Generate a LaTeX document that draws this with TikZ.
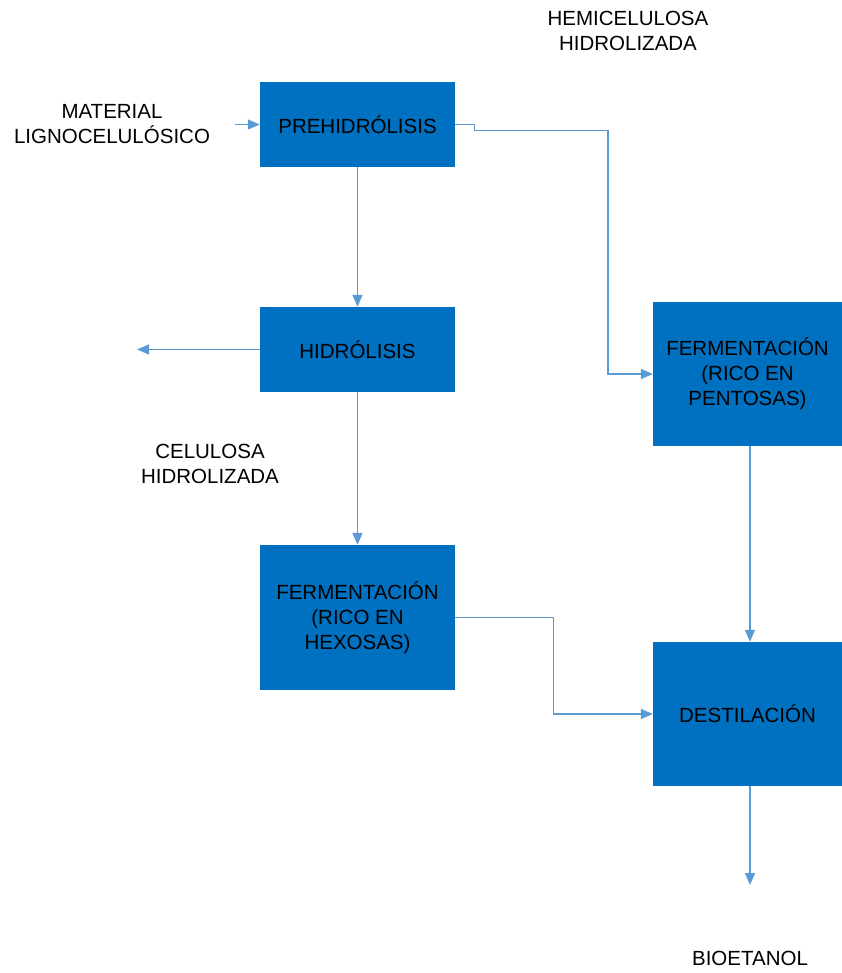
\documentclass[tikz,border=0pt]{standalone}
\usepackage{fontspec}
\setmainfont{Liberation Sans}
\usetikzlibrary{arrows.meta}
\definecolor{procblue}{HTML}{0070C0}
\definecolor{flowblue}{HTML}{5B9BD5}

\begin{document}
\begin{tikzpicture}[x=1pt, y=-1pt,
        proc/.style={fill=procblue, align=center, font=\fontsize{20.5}{25}\selectfont, minimum width=195pt, minimum height=85pt, inner sep=0pt},
        lbl/.style={align=center, font=\fontsize{20.5}{25}\selectfont, inner sep=0pt},
        arr/.style={-{Triangle[length=12pt,width=10pt]}, draw=flowblue, line width=1.3pt}]
      \useasboundingbox (0,0) rectangle (842,973);
      % process boxes
      \node[proc] (pre) at (357.5,124.5) {PREHIDRÓLISIS};
      \node[proc] (hid) at (357.5,349.5) {HIDRÓLISIS};
      \node[proc, minimum height=145pt] (fhex) at (357.5,617.5) {FERMENTACIÓN\\(RICO EN\\HEXOSAS)};
      \node[proc, minimum width=189pt, minimum height=144pt] (fpen) at (747.5,374) {FERMENTACIÓN\\(RICO EN\\PENTOSAS)};
      \node[proc, minimum width=189pt, minimum height=144pt] (dest) at (747.5,714) {DESTILACIÓN};
      % stream labels
      \node[lbl] (mat) at (112,124.5) {MATERIAL\\LIGNOCELULÓSICO};
      \node[lbl] (hemi) at (628,31) {HEMICELULOSA\\HIDROLIZADA};
      \node[lbl] (celu) at (210,464) {CELULOSA\\HIDROLIZADA};
      \node[lbl] (bio) at (750,958) {BIOETANOL};
      \coordinate (matout) at (235,124.5);
      \coordinate (side) at (137,349.5);
      \coordinate (prod) at (750,885);
      % flows
      \draw[arr] (matout) -- (pre.west);
      \draw[arr] (pre.south) -- (hid.north);
      \draw[arr] (hid.west) -- (side);
      \draw[arr] (hid.south) -- (fhex.north);
      \draw[arr] (pre.east) -- ++(19,0) -- ++(0,6) -- (608,130.5) |- (fpen.west);
      \draw[arr] (fpen.south -| prod) -- (dest.north -| prod);
      \draw[arr] (fhex.east) -- ++(98,0) |- (dest.west);
      \draw[arr] (dest.south -| prod) -- (prod);
\end{tikzpicture}
\end{document}
